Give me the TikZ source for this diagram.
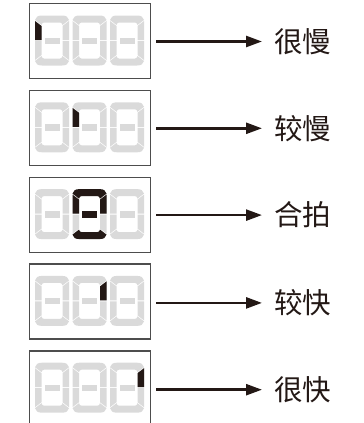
\documentclass[tikz,border=0pt]{standalone}
\usepackage{fontspec}
\newfontfamily\cjk{Noto Sans CJK SC}
\usetikzlibrary{arrows.meta,calc}
\definecolor{seggray}{HTML}{DADADA}
\definecolor{lcdblack}{HTML}{231815}
\definecolor{boxgray}{HTML}{4D4D4D}
% segment outlines in local digit coordinates (34 x 50, y downward)
\def\sega{(0,4.5) .. controls (0.5,1.5) and (3,0) .. (7,0) -- (27,0) .. controls (31,0) and (33.5,1.5) .. (34,4.5) -- (27.5,9.5) .. controls (27,8) and (26.5,7) .. (25,7) -- (9,7) .. controls (7.5,7) and (7,8) .. (6.5,9.5) -- cycle}
\def\segb{(34,5.5) -- (27.5,10.5) -- (27.5,24.5) -- (34,24.5) -- cycle}
\def\segc{(34,25.5) -- (27.5,25.5) -- (27.5,39.5) -- (34,44.5) -- cycle}
\def\segd{(0,45.5) .. controls (0.5,48.5) and (3,50) .. (7,50) -- (27,50) .. controls (31,50) and (33.5,48.5) .. (34,45.5) -- (27.5,40.5) .. controls (27,42) and (26.5,43) .. (25,43) -- (9,43) .. controls (7.5,43) and (7,42) .. (6.5,40.5) -- cycle}
\def\sege{(0,25.5) -- (6.5,25.5) -- (6.5,39.5) -- (0,44.5) -- cycle}
\def\segf{(0,5.5) -- (6.5,10.5) -- (6.5,24.5) -- (0,24.5) -- cycle}
\def\segg{(9.5,22) rectangle (24.5,28.5)}
\newcommand\offdig[2]{%
  \begin{scope}[shift={(#1,#2)}]
    \foreach \s in {\sega,\segb,\segc,\segd,\sege,\segf,\segg} {\fill[seggray] \s;}
  \end{scope}}
\newcommand\ondig[3]{%
  \offdig{#1}{#2}%
  \begin{scope}[shift={(#1,#2)}]
    \foreach \s in {#3} {\fill[lcdblack] \s;}
  \end{scope}}
\tikzset{
  lcdbox/.style={draw=boxgray, line width=1.3pt, minimum width=121pt, minimum height=75pt, inner sep=0pt, anchor=north west},
  speed/.style={font=\cjk\fontsize{28.5}{30}\selectfont, text=lcdblack, inner sep=0pt, anchor=west},
  arr/.style={draw=lcdblack, line width=2.5pt, -{Triangle[length=16pt,width=11pt]}}
}
\begin{document}
\begin{tikzpicture}[x=1pt,y=-1pt]
\useasboundingbox (0,0) rectangle (364,423);
\clip (0,0) rectangle (364,423);
% boxes
\node[lcdbox] (b1) at (29,3) {};
\node[lcdbox] (b2) at (29,89.8) {};
\node[lcdbox] (b3) at (29,176.6) {};
\node[lcdbox] (b4) at (29,263.4) {};
\node[lcdbox] (b5) at (29,350.2) {};
% digits
% box 1
\ondig{35}{15.5}{\segf}
\offdig{72.5}{15.5}
\offdig{110}{15.5}
% box 2
\offdig{35}{102.3}
\ondig{72.5}{102.3}{\segf}
\offdig{110}{102.3}
% box 3
\offdig{35}{189.1}
\ondig{72.5}{189.1}{\sega,\segb,\segf,\segg,\segd}
\offdig{110}{189.1}
% box 4
\offdig{35}{275.9}
\ondig{72.5}{275.9}{\segb}
\offdig{110}{275.9}
% box 5
\offdig{35}{362.7}
\offdig{72.5}{362.7}
\ondig{110}{362.7}{\segb}
% labels
\node[speed] (l1) at (274,41.5) {很慢};
\node[speed] (l2) at (274,128.3) {较慢};
\node[speed] (l3) at (274,215.1) {合拍};
\node[speed] (l4) at (274,302.9) {较快};
\node[speed] (l5) at (274,389.7) {很快};
% arrows
\foreach \i in {1,...,5} {
  \draw[arr] ($(b\i.east |- l\i.west)+(5,0)$) -- ($(l\i.west)+(-12,0)$);
}
\end{tikzpicture}
\end{document}
